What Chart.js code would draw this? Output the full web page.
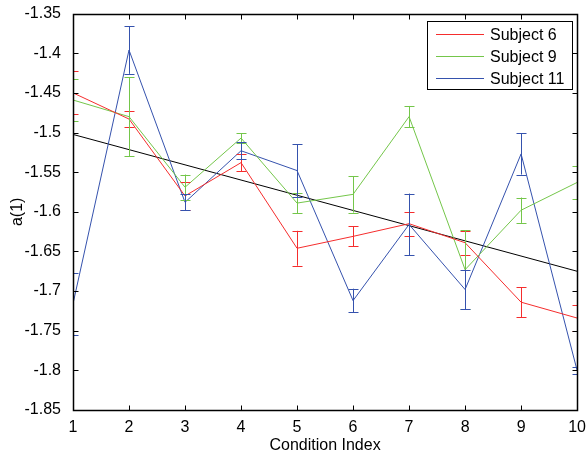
<!DOCTYPE html>
<html>
<head>
<meta charset="utf-8">
<script src="https://cdn.jsdelivr.net/npm/chart.js@4"></script>
<style>
  html, body { margin: 0; padding: 0; background: #fff; }
  #wrap { width: 586px; height: 455px; }
</style>
</head>
<body>
<div id="wrap"><canvas id="plot" width="586" height="455"></canvas></div>
<script>
// Condition index on the x axis
const conditions = [1, 2, 3, 4, 5, 6, 7, 8, 9, 10];

// Mean a(1) per subject, with error bar half-lengths
const subject6 = [-1.450, -1.483, -1.580, -1.538, -1.646, -1.631, -1.615, -1.639, -1.714, -1.734];
const subject6Err = [0.027, 0.010, 0.018, 0.011, 0.022, 0.0125, 0.015, 0.015, 0.019, 0.016];

const subject9 = [-1.459, -1.480, -1.569, -1.507, -1.589, -1.578, -1.480, -1.673, -1.598, -1.563];
const subject9Err = [0.027, 0.050, 0.016, 0.006, 0.013, 0.023, 0.0135, 0.050, 0.016, 0.021];

const subject11 = [-1.716, -1.396, -1.588, -1.523, -1.548, -1.712, -1.616, -1.698, -1.527, -1.800];
const subject11Err = [0.039, 0.030, 0.010, 0.011, 0.033, 0.015, 0.039, 0.025, 0.026, 0.004];

// Black fit line, ends at condition 1 and 10
const trendX = [1, 10];
const trendY = [-1.5024, -1.675];

const yTicks = [-1.85, -1.8, -1.75, -1.7, -1.65, -1.6, -1.55, -1.5, -1.45, -1.4, -1.35];

const FONT = '"Liberation Sans", Arial, sans-serif';

function toPoints(xs, ys) {
    return xs.map(function(x, i) { return { x: x, y: ys[i] }; });
}

function series(label, ys, errs, color) {
    return {
        label: label,
        data: toPoints(conditions, ys),
        errors: errs,
        borderColor: color,
        backgroundColor: color,
        borderWidth: 1,
        pointRadius: 0,
        tension: 0
    };
}

// Error bars, inward ticks, axes box and legend
const matlabLook = {
    id: 'matlabLook',
    afterDatasetsDraw(chart) {
        const ctx = chart.ctx;
        const area = chart.chartArea;
        const xs = chart.scales.x, ys = chart.scales.y;
        ctx.save();
        ctx.beginPath();
        ctx.rect(area.left, area.top, area.right - area.left, area.bottom - area.top);
        ctx.clip();
        chart.data.datasets.forEach(function(ds) {
            if (!ds.errors) return;
            ctx.strokeStyle = ds.borderColor;
            ctx.lineWidth = 1;
            ds.data.forEach(function(p, i) {
                const px = Math.round(xs.getPixelForValue(p.x)) + 0.5;
                const top = ys.getPixelForValue(p.y + ds.errors[i]);
                const bot = ys.getPixelForValue(p.y - ds.errors[i]);
                ctx.beginPath();
                ctx.moveTo(px, top); ctx.lineTo(px, bot);
                ctx.moveTo(px - 5, Math.round(top) + 0.5); ctx.lineTo(px + 5, Math.round(top) + 0.5);
                ctx.moveTo(px - 5, Math.round(bot) + 0.5); ctx.lineTo(px + 5, Math.round(bot) + 0.5);
                ctx.stroke();
            });
        });
        ctx.restore();
    },
    afterDraw(chart) {
        const ctx = chart.ctx;
        const a = chart.chartArea;
        const xs = chart.scales.x, ys = chart.scales.y;
        const L = Math.round(a.left) + 0.5, R = Math.round(a.right) + 0.5;
        const T = Math.round(a.top) + 0.5, B = Math.round(a.bottom) + 0.5;
        ctx.save();
        ctx.strokeStyle = '#000';
        ctx.lineWidth = 1;
        ctx.beginPath();
        conditions.forEach(function(c) {
            const px = Math.round(xs.getPixelForValue(c)) + 0.5;
            ctx.moveTo(px, B); ctx.lineTo(px, B - 5);
            ctx.moveTo(px, T); ctx.lineTo(px, T + 5);
        });
        yTicks.forEach(function(v) {
            const py = Math.round(ys.getPixelForValue(v)) + 0.5;
            ctx.moveTo(L, py); ctx.lineTo(L + 5, py);
            ctx.moveTo(R, py); ctx.lineTo(R - 5, py);
        });
        ctx.stroke();
        ctx.lineWidth = 1.5;
        ctx.strokeRect(L, T, R - L, B - T);

        // legend box
        const lx = 427, ly = 21, lw = 145, lh = 68;
        ctx.fillStyle = '#fff';
        ctx.fillRect(lx, ly, lw, lh);
        ctx.lineWidth = 1;
        ctx.strokeRect(lx + 0.5, ly + 0.5, lw, lh);
        ctx.font = '16px ' + FONT;
        ctx.textBaseline = 'middle';
        ctx.fillStyle = '#000';
        chart.data.datasets.filter(function(d) { return d.errors; }).forEach(function(ds, i) {
            const y = ly + 13.5 + i * 22;
            ctx.strokeStyle = ds.borderColor;
            ctx.beginPath();
            ctx.moveTo(436, y); ctx.lineTo(484, y);
            ctx.stroke();
            ctx.fillText(ds.label, 490, y + 1);
        });
        ctx.restore();
    }
};

new Chart(document.getElementById('plot'), {
    type: 'line',
    data: {
        datasets: [
            series('Subject 6', subject6, subject6Err, '#f52d2d'),
            series('Subject 9', subject9, subject9Err, '#74c64a'),
            series('Subject 11', subject11, subject11Err, '#3552ad'),
            {
                label: 'fit',
                data: toPoints(trendX, trendY),
                borderColor: '#000',
                borderWidth: 1,
                pointRadius: 0,
                tension: 0
            }
        ]
    },
    options: {
        responsive: false,
        animation: false,
        layout: { padding: { top: 13, right: 8, left: 0, bottom: 0 } },
        plugins: { legend: { display: false }, tooltip: { enabled: false } },
        scales: {
            x: {
                type: 'linear',
                min: 1, max: 10,
                afterFit: function(s) { s.height = 45; },
                grid: { display: false },
                border: { display: false },
                ticks: {
                    stepSize: 1, color: '#000', padding: 0,
                    font: { family: FONT, size: 16 }
                },
                title: {
                    display: true, text: 'Condition Index', color: '#000',
                    font: { family: FONT, size: 16 }, padding: { top: 2, bottom: 0 }
                }
            },
            y: {
                min: -1.85, max: -1.35,
                afterFit: function(s) { s.width = 73; },
                afterBuildTicks: function(s) { s.ticks = yTicks.map(function(v) { return { value: v }; }); },
                grid: { display: false },
                border: { display: false },
                ticks: {
                    color: '#000', padding: 4,
                    font: { family: FONT, size: 16 }
                    , callback: function(v) { return String(+v.toFixed(2)); }
                },
                title: {
                    display: true, text: 'a(1)', color: '#000',
                    font: { family: FONT, size: 16 }, padding: { top: 8, bottom: 0 }
                }
            }
        }
    },
    plugins: [matlabLook]
});
</script>
</body>
</html>
